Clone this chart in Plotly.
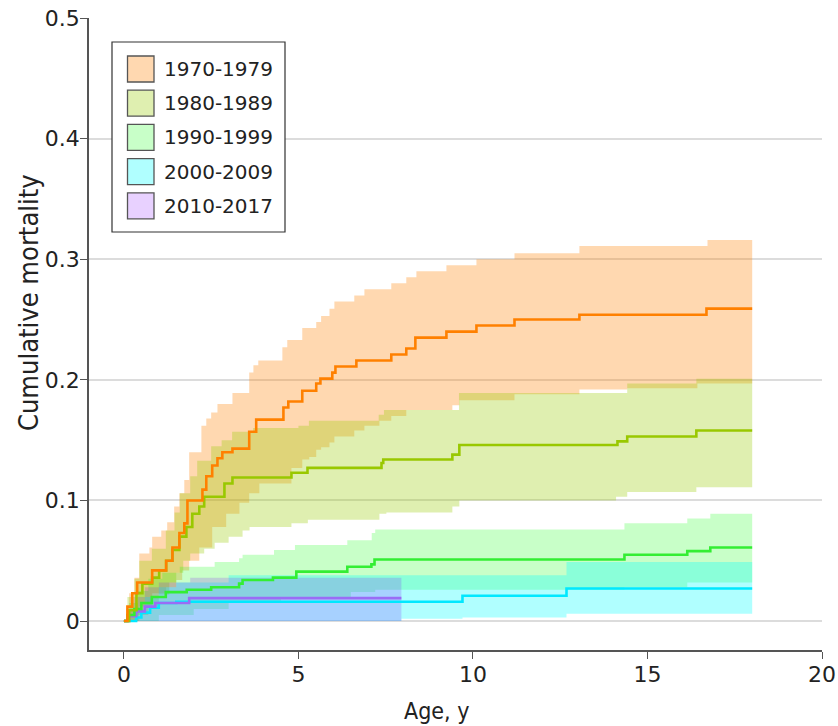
import plotly.graph_objects as go

# ---------------- data ----------------
labels = ["1970-1979", "1980-1989", "1990-1999", "2000-2009", "2010-2017"]
x_title = "Age, y"
y_title = "Cumulative mortality"

# 1970-1979
t70 = [0, 0.10, 0.24, 0.38, 0.81, 1.21, 1.39, 1.59, 1.73, 1.82, 2.25, 2.36, 2.53, 2.68, 2.82, 3.11, 3.59, 3.79,
       4.57, 4.71, 5.11, 5.51, 5.63, 5.97, 6.06, 6.66, 7.66, 8.09, 8.35, 9.24, 10.10, 11.19, 13.05, 16.69, 18.0]
m70 = [0, 0.012, 0.023, 0.032, 0.042, 0.050, 0.061, 0.073, 0.081, 0.100, 0.109, 0.120, 0.129, 0.135, 0.140, 0.143,
       0.157, 0.167, 0.177, 0.182, 0.191, 0.197, 0.201, 0.206, 0.211, 0.216, 0.221, 0.226, 0.235, 0.240, 0.245,
       0.250, 0.254, 0.259, 0.259]
t70u = [0, 0.07, 0.15, 0.30, 0.44, 0.73, 0.81, 1.07, 1.24, 1.44, 1.59, 1.73, 1.87, 2.22, 2.36, 2.50, 2.68, 3.11,
        3.59, 3.71, 3.85, 4.54, 4.68, 5.11, 5.51, 5.65, 5.89, 6.03, 6.60, 6.89, 7.66, 8.09, 8.38, 9.24, 10.10,
        11.19, 13.05, 16.72, 18.0]
u70 = [0, 0.010, 0.023, 0.036, 0.056, 0.061, 0.070, 0.075, 0.082, 0.095, 0.106, 0.117, 0.140, 0.162, 0.168, 0.173,
       0.180, 0.189, 0.206, 0.212, 0.216, 0.227, 0.233, 0.243, 0.248, 0.253, 0.259, 0.265, 0.270, 0.275, 0.280,
       0.285, 0.290, 0.295, 0.300, 0.305, 0.311, 0.316, 0.316]
t70l = [0, 0.44, 0.81, 1.21, 1.50, 1.67, 1.87, 2.16, 2.53, 2.93, 3.31, 3.59, 3.88, 4.80, 5.11, 5.31, 5.51, 5.65,
        5.89, 6.03, 6.60, 6.89, 7.32, 7.66, 8.09, 9.41, 9.61, 11.19, 13.05, 14.42, 16.43, 18.0]
l70 = [0, 0.012, 0.023, 0.028, 0.034, 0.042, 0.050, 0.061, 0.078, 0.089, 0.098, 0.106, 0.114, 0.127, 0.134, 0.136,
       0.142, 0.144, 0.148, 0.153, 0.158, 0.162, 0.166, 0.170, 0.175, 0.179, 0.183, 0.188, 0.192, 0.193, 0.197, 0.197]

# 1980-1989
t80 = [0, 0.15, 0.36, 0.53, 0.81, 1.01, 1.21, 1.39, 1.59, 1.79, 1.96, 2.16, 2.30, 2.88, 3.11, 4.80, 5.26, 7.38,
       7.43, 9.41, 9.61, 14.14, 14.42, 16.40, 18.0]
m80 = [0, 0.009, 0.023, 0.031, 0.036, 0.042, 0.050, 0.059, 0.070, 0.078, 0.089, 0.095, 0.103, 0.114, 0.119, 0.123,
       0.127, 0.131, 0.134, 0.138, 0.146, 0.149, 0.153, 0.158, 0.158]
t80u = [0, 0.10, 0.30, 0.44, 0.80, 1.20, 1.45, 1.60, 1.90, 2.10, 2.50, 2.80, 3.10, 3.70, 5.00, 5.30, 7.30, 7.45,
        9.60, 14.42, 16.40, 18.0]
u80 = [0, 0.020, 0.035, 0.050, 0.060, 0.075, 0.090, 0.106, 0.120, 0.133, 0.145, 0.150, 0.157, 0.160, 0.162, 0.166,
       0.171, 0.175, 0.189, 0.197, 0.201, 0.201]
t80l = [0, 0.40, 0.70, 1.00, 1.30, 1.50, 1.70, 1.90, 2.30, 2.60, 3.00, 3.40, 3.60, 4.80, 5.27, 7.32, 7.52, 9.41,
        9.61, 14.10, 14.42, 16.40, 18.0]
l80 = [0, 0.005, 0.012, 0.022, 0.032, 0.040, 0.050, 0.056, 0.060, 0.065, 0.070, 0.075, 0.078, 0.081, 0.084, 0.089,
       0.090, 0.095, 0.100, 0.103, 0.107, 0.111, 0.111]

# 1990-1999
t90 = [0, 0.10, 0.30, 0.50, 0.80, 1.20, 1.80, 2.50, 3.30, 3.40, 4.27, 4.94, 6.40, 7.09, 7.18, 14.34, 16.14, 16.80, 18.0]
m90 = [0, 0.005, 0.010, 0.015, 0.020, 0.024, 0.026, 0.028, 0.031, 0.034, 0.036, 0.041, 0.045, 0.047, 0.051, 0.055,
       0.058, 0.061, 0.061]
t90u = [0, 0.15, 0.40, 0.70, 1.10, 1.60, 2.60, 3.30, 3.40, 4.30, 4.90, 6.40, 7.10, 7.20, 14.34, 16.14, 16.80, 18.0]
u90 = [0, 0.015, 0.025, 0.035, 0.040, 0.045, 0.049, 0.052, 0.055, 0.059, 0.063, 0.067, 0.073, 0.076, 0.081, 0.085,
       0.089, 0.089]
t90l = [0, 1.0, 2.0, 3.0, 4.5, 6.5, 7.2, 14.34, 16.14, 18.0]
l90 = [0, 0.005, 0.010, 0.015, 0.020, 0.024, 0.026, 0.028, 0.032, 0.032]

# 2000-2009
t00 = [0, 0.35, 0.50, 0.75, 1.00, 1.50, 9.70, 12.68, 18.0]
m00 = [0, 0.003, 0.007, 0.011, 0.015, 0.016, 0.021, 0.027, 0.027]
t00u = [0, 0.35, 0.60, 1.00, 1.50, 3.00, 12.68, 18.0]
u00 = [0, 0.010, 0.020, 0.028, 0.032, 0.038, 0.049, 0.049]
t00l = [0, 7.95, 9.70, 12.68, 18.0]
l00 = [0, 0.002, 0.003, 0.006, 0.006]

# 2010-2017
t10 = [0, 0.15, 0.35, 0.60, 0.90, 1.87, 7.95]
m10 = [0, 0.004, 0.008, 0.012, 0.015, 0.019, 0.019]
t10u = [0, 0.10, 0.30, 0.60, 1.00, 1.90, 7.95]
u10 = [0, 0.010, 0.020, 0.028, 0.032, 0.036, 0.036]
t10l = [0, 7.95]
l10 = [0, 0]

x_ticks = [0, 5, 10, 15, 20]
y_ticks = [0, 0.1, 0.2, 0.3, 0.4, 0.5]
y_ticktext = ["0", "0.1", "0.2", "0.3", "0.4", "0.5"]

# ---------------- styles ----------------
line_colors = ["#ff8000", "#99c800", "#33ee33", "#00e8ff", "#9a6cf5"]
band_rgb = [(255, 128, 0), (153, 204, 0), (0, 255, 0), (0, 255, 255), (128, 0, 255)]
band_alpha = [0.31, 0.31, 0.216, 0.31, 0.18]

series = [
    (t70, m70, t70u, u70, t70l, l70),
    (t80, m80, t80u, u80, t80l, l80),
    (t90, m90, t90u, u90, t90l, l90),
    (t00, m00, t00u, u00, t00l, l00),
    (t10, m10, t10u, u10, t10l, l10),
]

fig = go.Figure()

# CI bands
for i, (t, m, tu, u, tl, lo) in enumerate(series):
    r, g, b = band_rgb[i]
    a = band_alpha[i]
    fig.add_trace(go.Scatter(x=tl, y=lo, mode="lines", line=dict(width=0, shape="hv"),
                             showlegend=False, hoverinfo="skip"))
    fig.add_trace(go.Scatter(x=tu, y=u, mode="lines", line=dict(width=0, shape="hv"),
                             fill="tonexty", fillcolor=f"rgba({r},{g},{b},{a})",
                             showlegend=False, hoverinfo="skip"))

# estimate lines
for i in [3, 4, 2, 1, 0]:
    t, m = series[i][0], series[i][1]
    fig.add_trace(go.Scatter(x=t, y=m, mode="lines", name=labels[i],
                             line=dict(color=line_colors[i], width=2.6, shape="hv"),
                             showlegend=False))

# ---------------- layout ----------------
W, H = 838, 726
L, R, T, B = 89, 16, 18, 76
pw, ph = W - L - R, H - T - B


def px(xp):
    return (xp - L) / pw


def py(yp):
    return (H - B - yp) / ph


shapes = []
annotations = []
# manual legend (box, swatches, labels)
shapes.append(dict(type="rect", xref="paper", yref="paper", x0=px(112), x1=px(285), y0=py(232), y1=py(42),
                   line=dict(color="#333333", width=1.2), fillcolor="white", layer="above"))
for i, lab in enumerate(labels):
    r, g, b = band_rgb[i]
    a = band_alpha[i]
    solid = "rgb({},{},{})".format(*[round(255 * (1 - a) + c * a) for c in (r, g, b)])
    cy = 69 + 34.2 * i
    shapes.append(dict(type="rect", xref="paper", yref="paper", x0=px(127.5), x1=px(154), y0=py(cy + 13),
                       y1=py(cy - 13), line=dict(color="#555555", width=1.3), fillcolor=solid, layer="above"))
    annotations.append(dict(xref="paper", yref="paper", x=px(162), y=py(cy), xanchor="left", yanchor="middle",
                            text=lab, showarrow=False,
                            font=dict(family="DejaVu Sans", size=20, color="#222222")))

# axis titles
annotations.append(dict(xref="paper", yref="paper", x=px(28), y=py(303), xanchor="center", yanchor="middle",
                        text=y_title, textangle=-90, showarrow=False,
                        font=dict(family="DejaVu Sans Condensed", size=27, color="#222222")))
annotations.append(dict(xref="paper", yref="paper", x=px(436), y=py(711), xanchor="center", yanchor="middle",
                        text=x_title, showarrow=False,
                        font=dict(family="DejaVu Sans Condensed", size=23, color="#222222")))

fig.update_layout(
    width=W, height=H,
    margin=dict(l=L, r=R, t=T, b=B, autoexpand=False),
    paper_bgcolor="white", plot_bgcolor="white",
    showlegend=False,
    shapes=shapes, annotations=annotations,
    xaxis=dict(range=[-1, 20], tickvals=x_ticks, showgrid=False, zeroline=False, automargin=False,
               showline=True, linecolor="#555555", linewidth=1.5, ticklabeloverflow="allow",
               ticks="outside", ticklen=7, tickcolor="#555555", tickwidth=1.2, ticklabelstandoff=-3,
               tickfont=dict(family="DejaVu Sans", size=22, color="#222222")),
    yaxis=dict(range=[-0.024, 0.5], tickvals=y_ticks, ticktext=y_ticktext, showgrid=True,
               gridcolor="#dcdcdc", gridwidth=1.6, zeroline=False, automargin=False,
               showline=True, linecolor="#555555", linewidth=1.5, ticklabeloverflow="allow",
               ticks="outside", ticklen=7, tickcolor="#555555", tickwidth=1.2, ticklabelstandoff=-4,
               tickfont=dict(family="DejaVu Sans", size=22, color="#222222")),
)

fig.write_html("out.html", config={"displayModeBar": False},
               post_script="document.body.style.margin='0px';document.body.style.overflow='hidden';")
